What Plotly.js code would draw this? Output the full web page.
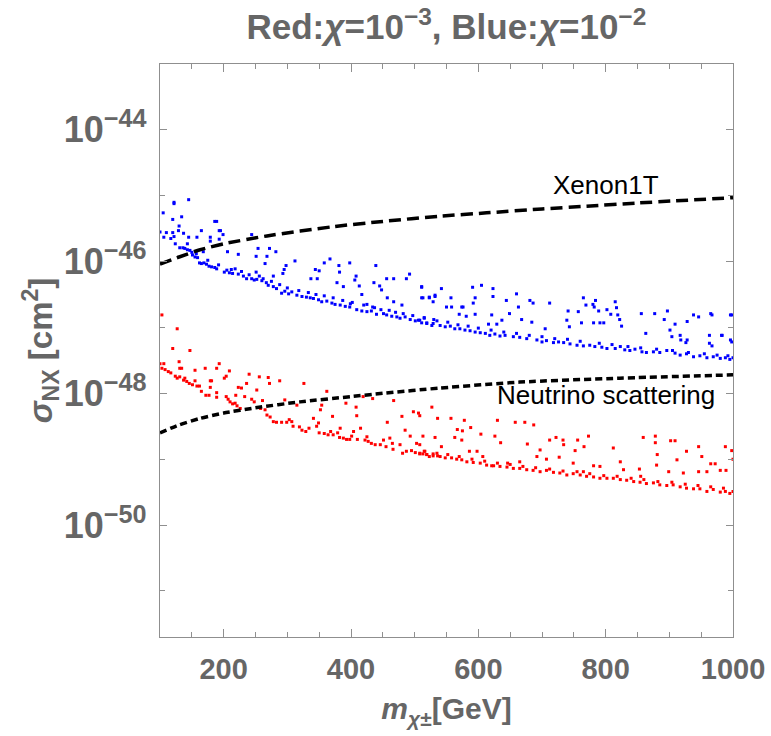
<!DOCTYPE html>
<html>
<head>
<meta charset="utf-8">
<script src="https://cdn.plot.ly/plotly-3.0.1.min.js"></script>
<style>html,body{margin:0;padding:0;background:#fff;}#chart{width:771px;height:736px;}</style>
</head>
<body>
<div id="chart"></div>
<script>
// Xenon1T limit: mass [GeV], log10(sigma/cm^2)
const xenonMass = [100, 130, 163, 200, 268, 372, 450, 540, 613, 700, 770, 850, 1000];
const xenonLogSigma = [-46.04, -45.93, -45.82, -45.73, -45.61, -45.47, -45.39, -45.31, -45.26, -45.20, -45.16, -45.11, -45.03];

// Neutrino scattering floor
const nuMass = [100, 130, 163, 200, 250, 320, 400, 450, 540, 665, 822, 1000];
const nuLogSigma = [-48.60, -48.48, -48.38, -48.30, -48.22, -48.13, -48.05, -48.00, -47.92, -47.83, -47.77, -47.72];

// Blue points (chi = 1e-2): [mass, log10 sigma]
const bluePoints = [
[105,-45.26],[122,-45.10],[122,-45.12],[145,-45.06],[120,-45.36],[134,-45.32],[130,-45.46],[129,-45.53],[100,-45.55],[110,-45.56],
[106,-45.63],[120,-45.56],[122,-45.62],[117,-45.65],[137,-45.57],[145,-45.63],[124,-45.73],[143,-45.73],[158,-45.63],[165,-45.53],
[179,-45.63],[179,-45.69],[186,-45.39],[189,-45.39],[193,-45.53],[195,-45.53],[193,-45.66],[199,-45.59],[168,-45.85],[206,-45.85],
[223,-45.89],[244,-45.59],[251,-45.92],[254,-45.80],[265,-46.03],[268,-45.92],[272,-45.80],[282,-45.85],[251,-46.16],[278,-46.22],
[293,-46.18],[295,-46.12],[298,-46.06],[312,-45.99],[337,-46.26],[347,-46.26],[344,-46.12],[350,-46.14],[358,-46.02],[367,-45.96],
[381,-46.06],[382,-46.16],[378,-46.32],[388,-46.38],[398,-46.02],[406,-46.28],[408,-46.22],[413,-46.37],[417,-46.50],[436,-46.32],
[439,-46.06],[448,-46.43],[445,-46.37],[456,-46.26],[467,-46.26],[457,-46.55],[467,-46.61],[480,-46.66],[487,-46.26],[492,-46.19],
[511,-46.38],[511,-46.55],[523,-46.55],[532,-46.53],[425,-46.65],[434,-46.69],[399,-46.64],
[131,-45.79],[136,-45.79],[139,-45.80],[143,-45.82],[147,-45.83],[151,-45.90],[155,-45.93],[159,-45.94],[162,-46.02],[165,-46.03],
[169,-46.02],[173,-46.04],[177,-46.07],[181,-46.08],[186,-46.09],[189,-46.11],[201,-46.16],[205,-46.13],[209,-46.17],[214,-46.18],
[218,-46.11],[223,-46.19],[231,-46.22],[236,-46.26],[244,-46.26],[248,-46.28],[252,-46.27],[260,-46.29],[262,-46.26],[267,-46.32],
[270,-46.36],[278,-46.38],[283,-46.41],[291,-46.48],[296,-46.45],[302,-46.49],[307,-46.46],[315,-46.51],[323,-46.53],[330,-46.54],
[336,-46.55],[341,-46.56],[349,-46.58],[354,-46.61],[362,-46.60],[370,-46.63],[375,-46.65],[383,-46.66],[391,-46.68],[398,-46.69],
[409,-46.73],[417,-46.75],[425,-46.76],[432,-46.75],[440,-46.80],[451,-46.79],[456,-46.81],[464,-46.83],[472,-46.84],[477,-46.86],
[485,-46.84],[493,-46.88],[501,-46.90],[506,-46.89],[511,-46.93],[519,-46.94],[527,-46.97],
[150,-45.86],[157,-45.88],[175,-45.98],[192,-46.05],[212,-46.12],[228,-46.15],[240,-46.20],[256,-46.22],[275,-46.30],[288,-46.35],
[300,-46.40],[318,-46.44],[333,-46.47],[345,-46.50],[358,-46.52],[372,-46.55],[387,-46.59],[402,-46.62],[420,-46.66],[437,-46.70],
[447,-46.73],[460,-46.74],[470,-46.77],[482,-46.79],[497,-46.82],[515,-46.85],[530,-46.88],
[511,-46.39],[513,-46.55],[523,-46.54],[532,-46.51],[529,-46.61],[542,-46.41],[550,-46.69],[557,-46.55],[558,-46.69],[574,-46.69],
[576,-46.69],[570,-46.80],[581,-46.83],[591,-46.39],[595,-46.55],[592,-46.63],[605,-46.36],[623,-46.41],[623,-46.53],[595,-46.80],
[621,-46.81],[616,-46.95],[629,-46.95],[637,-46.89],[644,-46.59],[649,-46.79],[660,-46.49],[663,-46.69],[668,-46.88],[681,-46.59],
[686,-46.63],[684,-46.92],[712,-46.63],[705,-47.02],[739,-46.89],[743,-46.99],[741,-46.75],[757,-46.76],[765,-46.55],[769,-46.66],
[780,-46.65],[782,-46.69],[784,-46.59],[762,-46.93],[781,-46.93],[791,-46.93],[797,-46.93],[789,-46.75],[802,-46.73],[808,-46.80],
[815,-46.61],[817,-46.70],[822,-46.88],[825,-46.98],[819,-46.81],[856,-46.79],[863,-47.09],[877,-46.79],[892,-46.88],[897,-46.75],
[901,-47.04],[909,-46.95],[917,-47.12],[928,-46.91],[928,-47.19],[938,-46.81],[946,-46.84],[965,-46.79],[963,-47.12],[967,-47.28],
[983,-47.12],[998,-46.81],[996,-47.19],[904,-47.14],[918,-47.19],[926,-47.23],
[508,-46.89],[519,-46.93],[529,-46.94],[540,-46.97],[548,-46.99],[556,-46.98],[563,-47.02],[571,-47.02],[579,-47.04],[587,-47.05],
[595,-47.07],[603,-47.08],[611,-47.09],[618,-47.12],[626,-47.10],[634,-47.13],[642,-47.12],[655,-47.14],[665,-47.15],[676,-47.17],
[692,-47.19],[700,-47.22],[707,-47.20],[718,-47.23],[726,-47.22],[734,-47.23],[744,-47.25],[755,-47.27],[765,-47.28],[775,-47.27],
[783,-47.29],[794,-47.30],[802,-47.32],[815,-47.32],[823,-47.29],[830,-47.34],[838,-47.35],[846,-47.33],[857,-47.37],[864,-47.38],
[875,-47.37],[885,-47.38],[896,-47.35],[909,-47.39],[917,-47.42],[927,-47.40],[938,-47.445],[948,-47.43],[959,-47.46],[969,-47.445],
[980,-47.47],[988,-47.46],[995,-47.485],[1000,-47.46],
[515,-46.86],[535,-46.90],[552,-46.92],[568,-46.96],[584,-46.98],[600,-47.01],[620,-47.04],[640,-47.07],[660,-47.09],[680,-47.12],
[700,-47.14],[720,-47.17],[740,-47.18],[760,-47.21],[790,-47.24],[810,-47.26],[835,-47.29],[855,-47.31],[880,-47.33],[905,-47.35],
[930,-47.38],[955,-47.40],[975,-47.42],[992,-47.43],
[996,-46.81],[998,-47.22],[967,-46.81],[982,-47.12],[963,-47.24]
];

// Red points (chi = 1e-3): [mass, log10 sigma]
const redPoints = [
[103,-46.81],[127,-47.02],[120,-47.32],[147,-47.35],
[100,-47.55],[106,-47.55],[103,-47.62],[108,-47.64],[113,-47.67],[117,-47.69],[130,-47.52],[131,-47.62],[134,-47.62],[124,-47.74],
[127,-47.77],[131,-47.75],[137,-47.80],[139,-47.77],[142,-47.82],[146,-47.85],[151,-47.87],[158,-47.89],[162,-47.89],[155,-47.65],
[155,-47.81],[165,-47.97],[172,-48.03],[177,-48.03],[171,-47.62],[179,-47.81],[181,-47.81],[179,-47.91],[189,-47.99],[189,-48.06],
[193,-47.55],[189,-47.62],[201,-47.77],[204,-47.74],[209,-47.66],[204,-48.05],[207,-48.09],[210,-48.13],[214,-48.16],[218,-48.15],
[221,-48.19],[226,-48.23],[219,-48.03],[223,-47.91],[228,-47.92],[236,-47.85],[240,-47.71],[233,-48.05],[244,-48.09],[248,-48.13],
[252,-47.95],[256,-47.75],[261,-48.11],[258,-48.23],[265,-48.25],[270,-47.76],[272,-47.85],[268,-48.33],[273,-48.36],[278,-48.43],
[283,-48.44],[288,-47.81],[291,-48.44],[296,-48.10],[299,-48.44],[303,-48.40],[307,-48.43],[309,-48.50],[315,-48.18],[319,-48.51],
[323,-48.56],[326,-47.85],[329,-48.58],[334,-48.53],[341,-48.38],[346,-48.50],[349,-48.45],[350,-48.60],[354,-48.18],[352,-48.25],
[358,-48.61],[362,-47.97],[364,-48.63],[368,-48.58],[371,-48.35],[372,-48.63],[379,-48.60],[382,-48.67],[383,-48.53],[388,-48.68],
[392,-48.15],[393,-48.70],[398,-48.70],[401,-48.65],[404,-48.58],[408,-48.21],[409,-48.34],[410,-48.70],[415,-48.53],[419,-48.05],
[422,-48.71],[425,-48.66],[427,-48.73],[432,-48.76],[434,-48.08],[438,-48.78],[446,-48.78],[451,-48.71],[455,-48.81],[457,-48.44],
[461,-48.68],[465,-48.76],[467,-48.11],[466,-48.85],[477,-48.78],[480,-48.35],[481,-48.91],[485,-48.56],[487,-48.88],[493,-48.65],
[495,-48.87],[498,-48.28],[501,-48.90],[503,-48.76],[506,-48.30],[508,-48.91],[513,-48.92],[516,-48.88],[519,-48.93],[523,-48.96],
[527,-48.21],[529,-48.92],[536,-48.38],[536,-48.95],
[508,-48.34],[557,-48.38],[578,-48.41],[567,-48.55],[588,-48.52],[575,-48.57],[630,-48.41],[658,-48.44],[673,-48.44],[687,-48.48],
[604,-48.62],[626,-48.65],[635,-48.75],[513,-48.65],[532,-48.67],[563,-48.67],[574,-48.71],[677,-48.77],[697,-48.86],[712,-48.71],
[722,-48.67],[733,-48.71],[734,-48.78],[756,-48.71],[766,-48.81],[773,-48.65],[727,-48.97],[752,-48.87],[812,-48.83],[859,-48.67],
[878,-48.65],[878,-48.75],[902,-48.72],[909,-48.72],[881,-48.93],[880,-49.09],[912,-49.01],[927,-48.88],[946,-48.81],[951,-48.96],
[965,-49.07],[972,-49.07],[959,-49.19],[988,-48.81],[998,-48.87],[1000,-49.00],[980,-49.17],[989,-49.17],[853,-49.15],[855,-49.26],
[899,-49.19],[922,-49.21],[946,-49.19],[823,-49.04],[828,-49.16],[781,-49.10],[791,-49.11],[765,-49.19],[749,-49.06],[707,-49.00],
[692,-48.96],[665,-49.04],[646,-49.06],[621,-49.10],[607,-48.96],[598,-48.88],[586,-48.88],[542,-48.81],[508,-48.78],
[508,-48.92],[519,-48.93],[529,-48.95],[540,-48.96],[548,-48.98],[558,-48.98],[566,-49.00],[574,-49.01],[582,-49.04],[592,-49.05],
[603,-49.06],[613,-49.09],[624,-49.10],[634,-49.11],[645,-49.12],[655,-49.14],[665,-49.14],[676,-49.16],[686,-49.17],[697,-49.19],
[707,-49.17],[718,-49.20],[728,-49.21],[739,-49.24],[749,-49.22],[760,-49.24],[770,-49.26],[781,-49.27],[791,-49.29],[802,-49.29],
[812,-49.29],[823,-49.31],[833,-49.32],[844,-49.34],[854,-49.35],[864,-49.37],[875,-49.36],[885,-49.39],[896,-49.40],[906,-49.39],
[917,-49.42],[927,-49.44],[938,-49.45],[948,-49.45],[959,-49.49],[969,-49.46],[980,-49.50],[988,-49.49],[995,-49.52],[1000,-49.49],
[515,-48.88],[535,-48.91],[552,-48.93],[570,-48.96],[590,-49.00],[610,-49.03],[630,-49.06],[650,-49.08],[670,-49.11],[690,-49.13],
[712,-49.15],[733,-49.18],[755,-49.19],[775,-49.22],[797,-49.25],[818,-49.26],[840,-49.29],[860,-49.31],[882,-49.34],[904,-49.35],
[925,-49.38],[945,-49.40],[965,-49.42],[985,-49.44]
];

const xTickValues = [200, 400, 600, 800, 1000];
const xMinorValues = [150, 250, 300, 350, 450, 500, 550, 650, 700, 750, 850, 900, 950];
const yTickPowers = [-44, -46, -48, -50];
const yMinorPowers = [-43, -45, -47, -49, -51];
const titleText = 'Red:<i>χ</i>=10<sup>−3</sup>, Blue:<i>χ</i>=10<sup>−2</sup>';

const pow10 = v => Math.pow(10, v);
const grey = '#666666';
const axisGrey = '#8f8f8f';
const fam = '"Liberation Sans", Arial, sans-serif';

const traces = [
  {x: bluePoints.map(p => p[0]), y: bluePoints.map(p => pow10(p[1])), type: 'scatter', mode: 'markers',
   marker: {color: '#0000ff', size: 3, symbol: 'square'}, showlegend: false, hoverinfo: 'skip'},
  {x: redPoints.map(p => p[0]), y: redPoints.map(p => pow10(p[1])), type: 'scatter', mode: 'markers',
   marker: {color: '#ff0000', size: 3, symbol: 'square'}, showlegend: false, hoverinfo: 'skip'},
  {x: xenonMass, y: xenonLogSigma.map(pow10), type: 'scatter', mode: 'lines',
   line: {color: '#000', width: 3.5, dash: '12px,6px', shape: 'spline', smoothing: 0.6}, showlegend: false, hoverinfo: 'skip'},
  {x: nuMass, y: nuLogSigma.map(pow10), type: 'scatter', mode: 'lines',
   line: {color: '#000', width: 3.5, dash: '7px,4px', shape: 'spline', smoothing: 0.6}, showlegend: false, hoverinfo: 'skip'}
];

const layout = {
  width: 771, height: 736,
  margin: {l: 160, r: 38, t: 64, b: 99},
  paper_bgcolor: '#fff', plot_bgcolor: '#fff',
  showlegend: false,
  title: {text: titleText, x: 0.579, xanchor: 'center', y: 0.963, yanchor: 'middle',
          font: {family: fam, size: 35, color: grey, weight: 700}},
  xaxis: {
    range: [100, 1000], tickmode: 'array', tickvals: xTickValues,
    ticks: 'inside', ticklen: 8, tickwidth: 1, tickcolor: axisGrey,
    minor: {tickmode: 'array', tickvals: xMinorValues, ticks: 'inside', ticklen: 5, tickcolor: axisGrey},
    showline: true, linecolor: axisGrey, linewidth: 1.2, mirror: 'ticks',
    showgrid: false, zeroline: false,
    tickfont: {family: fam, size: 29, color: grey, weight: 700},
    ticklabelstandoff: 6,
    title: {text: '<i>m</i><sub><i>χ</i>±</sub>[GeV]', standoff: 14, font: {family: fam, size: 30, color: grey, weight: 700}}
  },
  yaxis: {
    type: 'log', range: [-51.7, -43],
    tickmode: 'array', tickvals: yTickPowers.map(pow10),
    ticktext: yTickPowers.map(p => '10<sup>−' + Math.abs(p) + '</sup>'),
    ticks: 'inside', ticklen: 7, tickwidth: 1, tickcolor: axisGrey,
    minor: {tickmode: 'array', tickvals: yMinorPowers.map(pow10), ticks: 'inside', ticklen: 5, tickcolor: axisGrey},
    showline: true, linecolor: axisGrey, linewidth: 1.2, mirror: 'ticks',
    showgrid: false, zeroline: false,
    tickfont: {family: fam, size: 36, color: grey, weight: 700},
    ticklabelstandoff: 5,
    title: {text: '<i>σ</i><sub>NX</sub> [cm<sup>2</sup>]', standoff: 0, font: {family: fam, size: 33, color: grey, weight: 700}}
  },
  annotations: [
    {x: 800, y: -44.83, xref: 'x', yref: 'y', text: 'Xenon1T', showarrow: false,
     font: {family: fam, size: 26, color: '#000'}, xanchor: 'center', yanchor: 'middle'},
    {x: 800, y: -48.03, xref: 'x', yref: 'y', text: 'Neutrino scattering', showarrow: false,
     font: {family: fam, size: 26, color: '#000'}, xanchor: 'center', yanchor: 'middle'}
  ]
};

Plotly.newPlot('chart', traces, layout, {staticPlot: true, displayModeBar: false});
</script>
</body>
</html>
